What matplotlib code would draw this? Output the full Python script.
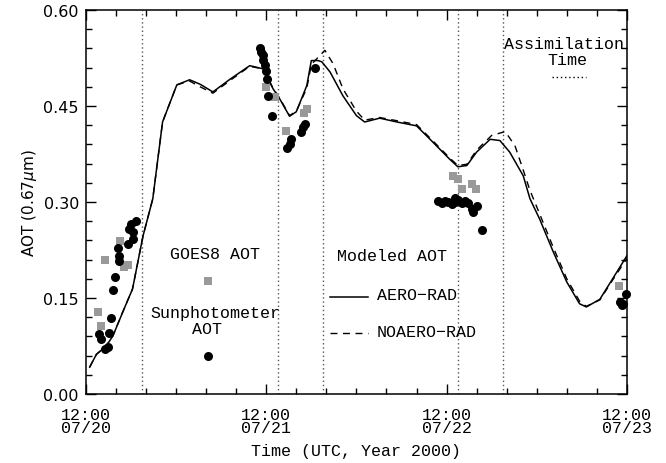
import numpy as np
import matplotlib
matplotlib.use("Agg")
import matplotlib.pyplot as plt
from matplotlib.ticker import MultipleLocator

# --- datos: horas desde 12:00 07/20 ---
aero_h = [0.5, 1.4, 2.7, 3.6, 4.9, 6.2, 7.6, 8.9, 10.2, 12.1, 13.8, 15.2, 16.9,
          19.2, 21.8, 23.6, 24.9, 25.8, 27.1, 28.0, 29.4, 30.0, 30.9, 31.4, 32.5,
          34.2, 36.0, 37.1, 39.1, 41.4, 44.0, 45.8, 48.4, 49.5, 50.7, 52.0, 53.8,
          55.1, 56.4, 58.2, 59.1, 60.4, 62.2, 64.0, 65.7, 66.6, 68.4, 70.1, 72.0]
aero_v = [0.042, 0.062, 0.075, 0.091, 0.128, 0.164, 0.247, 0.305, 0.425, 0.483,
          0.491, 0.484, 0.472, 0.492, 0.513, 0.508, 0.477, 0.461, 0.434, 0.441,
          0.482, 0.521, 0.521, 0.519, 0.503, 0.466, 0.435, 0.425, 0.431, 0.425,
          0.419, 0.398, 0.367, 0.355, 0.357, 0.378, 0.398, 0.396, 0.378, 0.341,
          0.305, 0.273, 0.222, 0.175, 0.141, 0.136, 0.148, 0.180, 0.216]

noaero_h = [0.5, 1.4, 2.7, 3.6, 4.9, 6.2, 7.6, 8.9, 10.2, 12.1, 13.8, 15.2, 16.9,
            19.2, 21.8, 23.6, 24.9, 25.8, 27.1, 28.0, 29.4, 30.0, 30.9, 31.8, 32.9,
            34.2, 36.0, 37.1, 39.1, 41.4, 44.0, 45.8, 48.4, 49.5, 50.7, 52.0, 54.0,
            55.8, 57.1, 58.2, 59.1, 60.4, 62.2, 64.0, 65.7, 66.6, 68.4, 70.1, 72.0]
noaero_v = [0.042, 0.062, 0.075, 0.091, 0.128, 0.164, 0.247, 0.305, 0.425, 0.483,
            0.489, 0.480, 0.470, 0.490, 0.512, 0.508, 0.478, 0.462, 0.435, 0.442,
            0.478, 0.515, 0.526, 0.537, 0.516, 0.477, 0.442, 0.428, 0.432, 0.427,
            0.421, 0.400, 0.369, 0.357, 0.359, 0.381, 0.404, 0.410, 0.388, 0.350,
            0.318, 0.281, 0.229, 0.180, 0.145, 0.137, 0.147, 0.178, 0.212]

sun_h = [1.77, 2.0, 2.57, 2.89, 3.1, 3.33, 3.63, 3.9, 4.43, 4.43, 4.22, 5.55, 6.22,
         6.22, 5.76, 5.99, 6.65,
         23.12, 23.33, 23.56, 23.62, 23.78, 24.0, 24.13, 24.22, 24.75, 26.79, 27.11,
         27.32, 28.65, 28.88, 29.1, 30.44,
         46.89, 47.34, 47.78, 48.22, 48.67, 49.11, 49.11, 49.55, 50.0, 50.44, 50.88,
         51.33, 51.55, 52.0, 52.66,
         71.83, 71.3, 71.07, 71.5]
sun_v = [0.094, 0.086, 0.071, 0.073, 0.095, 0.119, 0.163, 0.183, 0.208, 0.216, 0.228,
         0.234, 0.242, 0.253, 0.258, 0.266, 0.271,
         0.540, 0.535, 0.529, 0.522, 0.514, 0.505, 0.492, 0.465, 0.435, 0.384, 0.391,
         0.398, 0.410, 0.417, 0.422, 0.510,
         0.301, 0.298, 0.302, 0.300, 0.297, 0.307, 0.300, 0.303, 0.298, 0.302, 0.298,
         0.289, 0.284, 0.294, 0.256,
         0.156, 0.139, 0.144, 0.141]

goes_h = [1.56, 2.04, 2.57, 4.59, 5.06, 5.59,
          24.0, 25.11, 26.58, 29.01, 29.45,
          48.88, 49.55, 50.0, 51.33, 51.9,
          70.93]
goes_v = [0.128, 0.106, 0.210, 0.239, 0.198, 0.201,
          0.479, 0.464, 0.411, 0.439, 0.446,
          0.340, 0.336, 0.320, 0.328, 0.320,
          0.168]

assim_h = [7.5, 25.5, 31.5, 49.5, 55.5]

tick_h = [0, 24, 48, 72]
tick_lab = ["12:00\n07/20", "12:00\n07/21", "12:00\n07/22", "12:00\n07/23"]

MONO = ["Liberation Mono", "DejaVu Sans Mono"]

fig = plt.figure(figsize=(6.66, 4.64), dpi=100)
ax = fig.add_axes([0.129, 0.1487, 0.8123, 0.8276])

for h in assim_h:
    ax.axvline(h, color="#555555", ls=(0, (1, 2)), lw=1.0)

ax.plot(aero_h, aero_v, color="black", lw=1.1)
ax.plot(noaero_h, noaero_v, color="black", lw=1.0, ls=(0, (5, 4)))

ax.plot(goes_h, goes_v, "s", color="#999999", ms=6.4, mew=0, clip_on=False)
ax.plot(sun_h, sun_v, "o", color="black", ms=6.5, mew=0, clip_on=False)

# --- leyendas en texto ---
ax.text(17.2, 0.219, "GOES8 AOT", family=MONO, fontsize=12, ha="center", va="center")
ax.plot([16.24], [0.177], "s", color="#999999", ms=6.4, mew=0)
ax.text(17.3, 0.128, "Sunphotometer", family=MONO, fontsize=12, ha="center", va="center")
ax.text(16.1, 0.102, "AOT", family=MONO, fontsize=12, ha="center", va="center")
ax.plot([16.24], [0.059], "o", color="black", ms=6.5, mew=0)

ax.text(40.7, 0.217, "Modeled AOT", family=MONO, fontsize=12, ha="center", va="center")
ax.plot([32.5, 37.5], [0.152, 0.152], color="black", lw=1.1)
ax.text(38.7, 0.155, "AERO\u2212RAD", family=MONO, fontsize=12, ha="left", va="center")
ax.plot([32.5, 37.5], [0.095, 0.095], color="black", lw=1.0, ls=(0, (5, 4)))
ax.text(38.7, 0.098, "NOAERO\u2212RAD", family=MONO, fontsize=12, ha="left", va="center")

ax.text(63.6, 0.548, "Assimilation", family=MONO, fontsize=12, ha="center", va="center")
ax.text(64.1, 0.522, "Time", family=MONO, fontsize=12, ha="center", va="center")
ax.plot([62.0, 66.5], [0.495, 0.495], color="black", lw=1.0, ls=(0, (1, 2)))

# --- ejes ---
ax.set_xlim(0, 72)
ax.set_ylim(0, 0.60)
ax.set_xticks(tick_h)
ax.set_xticklabels(tick_lab, family=MONO, fontsize=12, linespacing=0.85)
ax.xaxis.set_minor_locator(MultipleLocator(4))
ax.set_yticks([0.0, 0.15, 0.30, 0.45, 0.60])
ax.set_yticklabels(["0.00", "0.15", "0.30", "0.45", "0.60"], fontsize=11.5)
ax.yaxis.set_minor_locator(MultipleLocator(0.03))
ax.tick_params(which="both", direction="in", top=True, right=True, width=1.0)
ax.tick_params(which="major", length=7.5, pad=5)
ax.tick_params(which="minor", length=4)
ax.tick_params(axis="x", which="major", pad=9)
for s in ax.spines.values():
    s.set_linewidth(1.1)

ax.set_xlabel("Time (UTC, Year 2000)", family=MONO, fontsize=12, labelpad=6)
ax.set_ylabel(r"AOT (0.67$\mu$m)", fontsize=11, labelpad=3)

fig.savefig("out.png", dpi=100)
